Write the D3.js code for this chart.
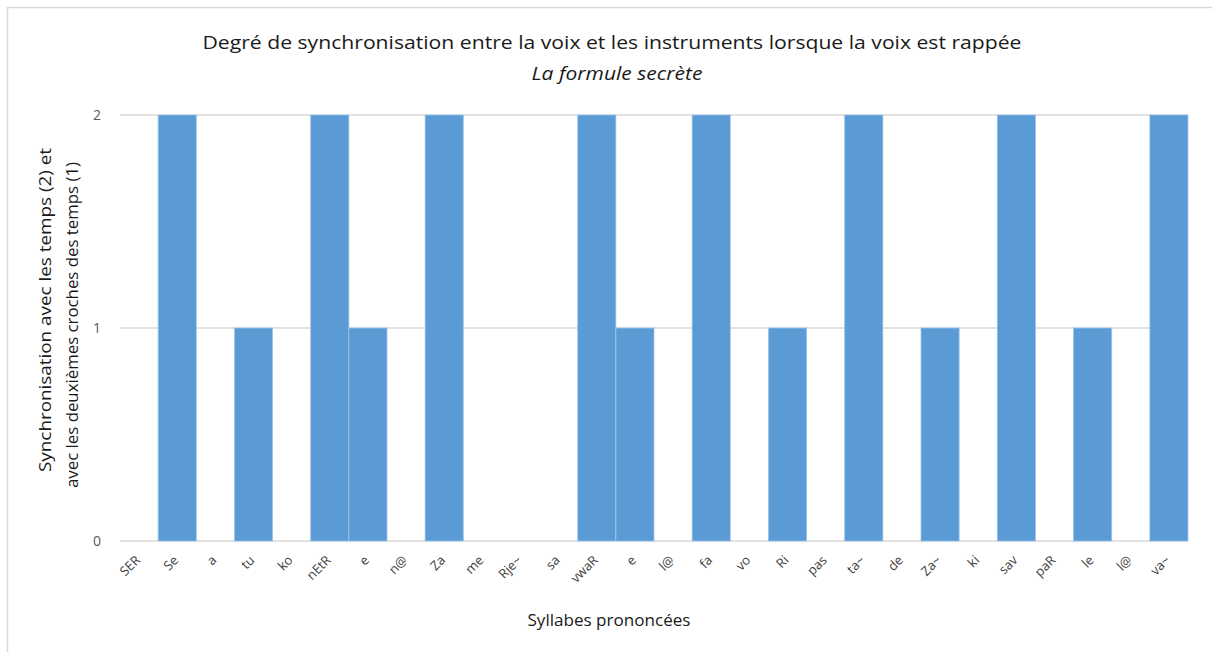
<!DOCTYPE html>
<html>
<head>
<meta charset="utf-8">
<script src="https://cdn.jsdelivr.net/npm/d3@7"></script>
<style>
  html, body { margin: 0; padding: 0; background: #fff; }
  svg { display: block; }
  text { font-family: "Open Sans", "Noto Sans", sans-serif; }
</style>
</head>
<body>
<svg id="chart" width="1212" height="652"></svg>
<script>
// Syllables of the verse, in the order they are pronounced
const syllables = ["SER", "Se", "a", "tu", "ko", "nEtR", "e", "n@", "Za", "me", "Rje~", "sa",
  "vwaR", "e", "l@", "fa", "vo", "Ri", "pas", "ta~", "de", "Za~", "ki", "sav", "paR", "le", "l@", "va~"];
// 2 = on the beat, 1 = on the second eighth of the beat, 0 = neither
const syncDegree = [0, 2, 0, 1, 0, 2, 1, 0, 2, 0, 0, 0,
  2, 1, 0, 2, 0, 1, 0, 2, 0, 1, 0, 2, 0, 1, 0, 2];
const yTicks = [0, 1, 2];

const titleText = "Degré de synchronisation entre la voix et les instruments lorsque la voix est rappée";
const subtitleText = "La formule secrète";
const xTitleText = "Syllabes prononcées";
const yTitleLines = ["Synchronisation  avec les temps (2) et", "avec les deuxièmes croches  des temps (1)"];

const svg = d3.select("#chart");
const W = 1212, H = 652;
const plot = { left: 120, right: 1188, top: 115, bottom: 541 };

// Chart frame
svg.append("rect")
  .attr("x", 7.5).attr("y", 7.5)
  .attr("width", W + 10).attr("height", H + 10)
  .attr("fill", "#fff").attr("stroke", "#d9d9d9").attr("stroke-width", 1.5);

const idx = d3.range(syllables.length);
const x = d3.scaleBand().domain(idx).range([plot.left, plot.right]).padding(0);
const y = d3.scaleLinear().domain([0, 2]).range([plot.bottom, plot.top]);

// Horizontal gridlines
svg.append("g").selectAll("line").data(yTicks).join("line")
  .attr("x1", plot.left).attr("x2", plot.right)
  .attr("y1", d => y(d)).attr("y2", d => y(d))
  .attr("stroke", "#d9d9d9").attr("stroke-width", 1.5);

// Y tick labels
svg.append("g").selectAll("text").data(yTicks).join("text")
  .attr("x", 97).attr("y", d => y(d) + 5)
  .attr("text-anchor", "middle")
  .attr("font-size", 14).attr("fill", "#595959")
  .text(d => d);

// Bars
svg.append("g").selectAll("rect").data(idx.filter(i => syncDegree[i] > 0)).join("rect")
  .attr("x", i => x(i))
  .attr("width", x.bandwidth())
  .attr("y", i => y(syncDegree[i]))
  .attr("height", i => y(0) - y(syncDegree[i]))
  .attr("fill", "#5b9bd5")
  .attr("stroke", "#9dc3e6").attr("stroke-width", 0.8);

// Category labels, slanted 45 degrees upwards, right end under each bar
svg.append("g").selectAll("text").data(idx).join("text")
  .attr("transform", i => `translate(${x(i) + x.bandwidth() / 2 + 2},${plot.bottom + 20}) rotate(-45)`)
  .attr("text-anchor", "end")
  .attr("font-size", 13).attr("fill", "#404040")
  .text(i => syllables[i]);

// Titles
svg.append("text")
  .attr("x", 612).attr("y", 49)
  .attr("text-anchor", "middle")
  .attr("font-size", 19).attr("fill", "#1a1a1a")
  .attr("textLength", 819).attr("lengthAdjust", "spacingAndGlyphs")
  .text(titleText);

svg.append("text")
  .attr("x", 617).attr("y", 80)
  .attr("text-anchor", "middle")
  .attr("font-size", 19).attr("font-style", "italic").attr("fill", "#1a1a1a")
  .attr("textLength", 171).attr("lengthAdjust", "spacingAndGlyphs")
  .text(subtitleText);

// Axis titles
svg.append("text")
  .attr("x", 609).attr("y", 626)
  .attr("text-anchor", "middle")
  .attr("font-size", 16).attr("fill", "#1a1a1a")
  .attr("textLength", 163).attr("lengthAdjust", "spacingAndGlyphs")
  .text(xTitleText);

const yTitle = [{ x: 51, y: 310, len: 324 }, { x: 78, y: 325, len: 326 }];
svg.append("g").selectAll("text").data(yTitleLines).join("text")
  .attr("transform", (d, i) => `translate(${yTitle[i].x},${yTitle[i].y}) rotate(-90)`)
  .attr("text-anchor", "middle")
  .attr("font-size", 16).attr("fill", "#1a1a1a")
  .attr("textLength", (d, i) => yTitle[i].len).attr("lengthAdjust", "spacingAndGlyphs")
  .text(d => d);
</script>
</body>
</html>
